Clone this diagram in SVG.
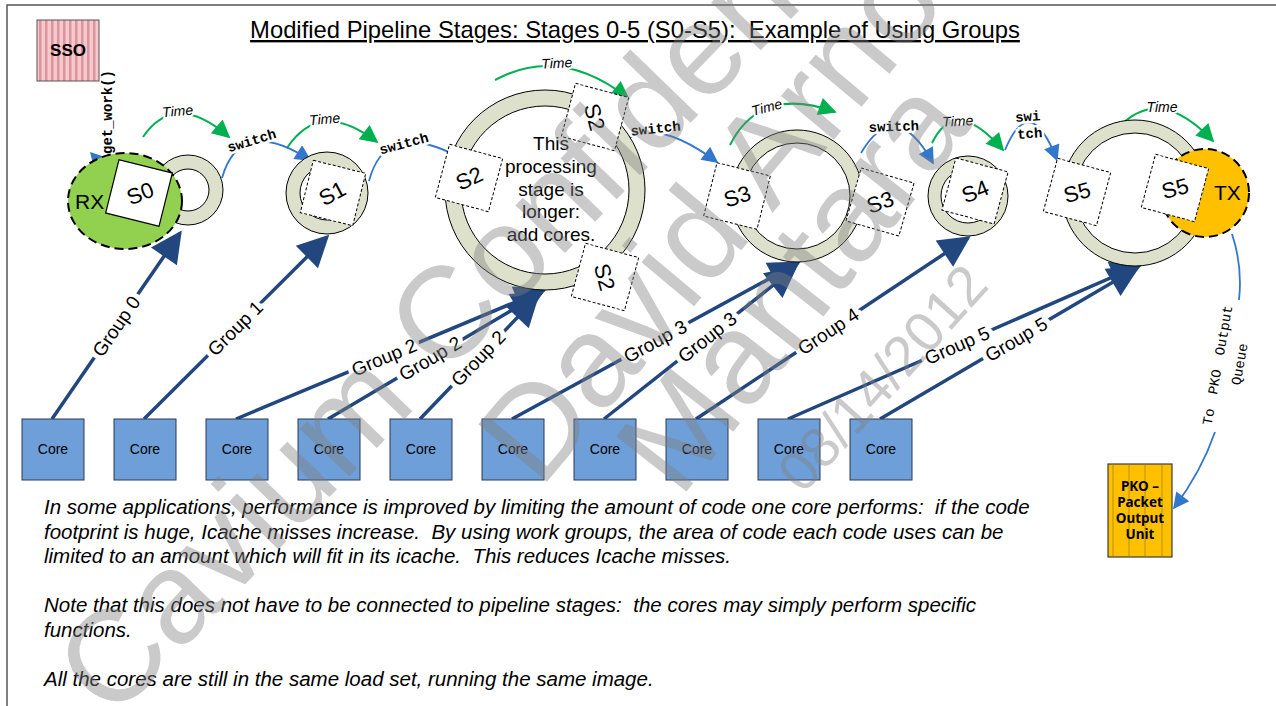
<svg xmlns="http://www.w3.org/2000/svg" width="1276" height="706" viewBox="0 0 1276 706">
  <style>
    .ring { fill: #dde0cb; stroke: #000; stroke-width: 1; }
    .hole { fill: #fff; stroke: #000; stroke-width: 1; }
    .sq { fill: #fff; stroke: #000; stroke-width: 1; stroke-dasharray: 3 2; }
    .sq0 { fill: #fff; stroke: #000; stroke-width: 1.2; }
    .stxt { font-family: "Liberation Sans", Arial, sans-serif; font-size: 22px; text-anchor: middle; fill: #000; }
    .core rect { fill: #6f9fd8; stroke: #2b3a55; stroke-width: 1; }
    .core text { font-family: "Liberation Sans", Arial, sans-serif; font-size: 14px; text-anchor: middle; fill: #000; }
    .grp { stroke: #21477e; stroke-width: 3.5; fill: none; marker-end: url(#arrD); }
    .glbl { font-family: "Liberation Sans", Arial, sans-serif; font-size: 19px; text-anchor: middle; fill: #000; stroke: #fff; stroke-width: 10; paint-order: stroke; stroke-linejoin: round; }
    .time { stroke: #00b050; stroke-width: 2; fill: none; marker-end: url(#arrG); }
    .tlbl { font-family: "Liberation Sans", Arial, sans-serif; font-style: italic; font-size: 14px; text-anchor: middle; fill: #000; stroke: #fff; stroke-width: 4; paint-order: stroke; }
    .sw { stroke: #3377cc; stroke-width: 1.8; fill: none; }
    .swa { marker-end: url(#arrB); }
    .slbl { font-family: "Liberation Mono", "Courier New", monospace; font-weight: bold; font-size: 14px; text-anchor: middle; fill: #000; stroke: #fff; stroke-width: 5; paint-order: stroke; }
    .mono { font-family: "Liberation Mono", "Courier New", monospace; font-size: 14px; fill: #000; }
    .para { font-family: "Liberation Sans", Arial, sans-serif; font-style: italic; font-size: 20.5px; fill: #000; white-space: pre; }
    .wm { font-family: "Liberation Sans", Arial, sans-serif; fill: #808080; fill-opacity: 0.42; }
  </style>
  <defs>
    <marker id="arrD" viewBox="0 0 10 10" refX="9" refY="5" markerWidth="10.5" markerHeight="9" orient="auto">
      <path d="M0,0 L10,5 L0,10 z" fill="#21477e"/>
    </marker>
    <marker id="arrG" viewBox="0 0 10 10" refX="9" refY="5" markerWidth="10" markerHeight="9" orient="auto">
      <path d="M0,0 L10,5 L0,10 z" fill="#00b050"/>
    </marker>
    <marker id="arrB" viewBox="0 0 10 10" refX="9" refY="5" markerWidth="10" markerHeight="9" orient="auto">
      <path d="M0,0 L10,5 L0,10 z" fill="#3377cc"/>
    </marker>
    <pattern id="pinkStripe" width="6" height="10" patternUnits="userSpaceOnUse">
      <rect width="6" height="10" fill="#f8c8ce"/>
      <rect x="3" width="2.5" height="10" fill="#d9969c"/>
    </pattern>
  </defs>

  <!-- page frame -->
  <rect x="7" y="5" width="1290" height="720" fill="#fff" stroke="#555" stroke-width="1.5"/>

  <!-- heading -->
  <text x="635" y="38" xml:space="preserve" style="white-space: pre" font-family="Liberation Sans, Arial, sans-serif" font-size="23.8" text-anchor="middle" text-decoration="underline">Modified Pipeline Stages: Stages 0-5 (S0-S5):  Example of Using Groups</text>

  <!-- SSO block -->
  <g id="sso">
    <rect x="37" y="20" width="62" height="61" fill="url(#pinkStripe)" stroke="#555" stroke-width="1"/>
    <text x="68" y="56" font-family="Liberation Sans, Arial, sans-serif" font-size="17" font-weight="bold" text-anchor="middle">SSO</text>
  </g>

  <!-- connectors -->
  <g id="connectors">
    <!-- get_work request into RX -->
    <polygon points="90,152 108,158 95,172" fill="#3377cc"/>
    <text class="mono" font-weight="bold" font-size="13" transform="translate(112,112) rotate(-90)" text-anchor="middle">get_work()</text>

    <!-- Time arcs -->
    <path class="time" d="M143,137 Q175,90 229,137"/>
    <path class="time" d="M287,148 Q320,98 377,142"/>
    <path class="time" d="M495,80 Q560,45 628,98"/>
    <path class="time" d="M730,145 Q760,85 835,112"/>
    <path class="time" d="M932,143 Q955,95 1003,150"/>
    <path class="time" d="M1120,126 Q1160,85 1213,141"/>
    <text class="tlbl" transform="translate(178,116) rotate(-5)">Time</text>
    <text class="tlbl" transform="translate(325,124) rotate(-5)">Time</text>
    <text class="tlbl" transform="translate(557,68) rotate(-3)">Time</text>
    <text class="tlbl" transform="translate(768,112) rotate(-15)">Time</text>
    <text class="tlbl" transform="translate(958,126) rotate(-3)">Time</text>
    <text class="tlbl" transform="translate(1162,112) rotate(0)">Time</text>

    <!-- switch hand-offs -->
    <path class="sw swa" d="M222,178 Q240,115 310,160"/>
    <path class="sw" d="M369,181 Q385,120 455,155"/>
    <path class="sw swa" d="M612,158 Q640,105 717,162"/>
    <path class="sw swa" d="M861,153 Q895,95 933,163"/>
    <path class="sw swa" d="M1005,150 Q1030,90 1057,160"/>
    <text class="slbl" transform="translate(253,145) rotate(-17)">switch</text>
    <text class="slbl" transform="translate(405,148) rotate(-15)">switch</text>
    <text class="slbl" transform="translate(656,133) rotate(-6)">switch</text>
    <text class="slbl" transform="translate(894,131) rotate(-2)">switch</text>
    <text class="slbl" transform="translate(1028,121) rotate(-4)">swi</text>
    <text class="slbl" transform="translate(1030,138) rotate(-4)">tch</text>

    <!-- output to PKO -->
    <path class="sw" d="M1232,234 C1240,258 1241,282 1239,300"/>
    <path class="sw swa" d="M1215,432 C1206,458 1192,484 1174,508"/>
    <text class="mono" font-size="15" word-spacing="6" text-anchor="middle" transform="translate(1222,366) rotate(-80)">To PKO Output</text>
    <text class="mono" font-size="15" text-anchor="middle" transform="translate(1244,365) rotate(-80)">Queue</text>

    <!-- core to group assignments -->
    <path class="grp" d="M52,419 L180,233"/>
    <path class="grp" d="M144,419 L327,237"/>
    <path class="grp" d="M236,419 L544,290"/>
    <path class="grp" d="M328,419 L541,293"/>
    <path class="grp" d="M420,419 L537,297"/>
    <path class="grp" d="M512,419 L798,263"/>
    <path class="grp" d="M604,419 L795,268"/>
    <path class="grp" d="M696,419 L968,238"/>
    <path class="grp" d="M788,419 L1140,265"/>
    <path class="grp" d="M880,419 L1137,268"/>
    <text class="glbl" dy="7" transform="translate(116,326) rotate(-55.5)">Group 0</text>
    <text class="glbl" dy="7" transform="translate(235,328) rotate(-44.8)">Group 1</text>
    <text class="glbl" dy="7" transform="translate(384,357) rotate(-22.7)">Group 2</text>
    <text class="glbl" dy="7" transform="translate(430,358) rotate(-30.6)">Group 2</text>
    <text class="glbl" dy="7" transform="translate(478,358) rotate(-46.2)">Group 2</text>
    <text class="glbl" dy="7" transform="translate(655,341) rotate(-28.6)">Group 3</text>
    <text class="glbl" dy="7" transform="translate(707,337) rotate(-38.3)">Group 3</text>
    <text class="glbl" dy="7" transform="translate(828,331) rotate(-33.6)">Group 4</text>
    <text class="glbl" dy="7" transform="translate(957,345) rotate(-23.6)">Group 5</text>
    <text class="glbl" dy="7" transform="translate(1016,339) rotate(-30.4)">Group 5</text>
  </g>

  <!-- stage 0 with RX -->
  <g id="stage0">
    <circle class="ring" cx="188" cy="190" r="35"/>
    <circle class="hole" cx="188" cy="190" r="21"/>
    <ellipse cx="125" cy="201" rx="57" ry="48" fill="#92d050" stroke="#000" stroke-width="2" stroke-dasharray="9 5"/>
    <text x="75" y="209" font-family="Liberation Sans, Arial, sans-serif" font-size="21">RX</text>
    <rect class="sq0" x="-27.5" y="-27.5" width="55" height="55" transform="translate(139,193) rotate(14)"/>
    <text class="stxt" dy="8" transform="translate(140,193) rotate(-22)">S0</text>
  </g>

  <!-- stage 1 -->
  <g id="stage1">
    <circle class="ring" cx="327" cy="193" r="41"/>
    <circle class="hole" cx="327" cy="193" r="27"/>
    <rect class="sq" x="-27" y="-27" width="54" height="54" transform="translate(333,193) rotate(14)"/>
    <text class="stxt" dy="8" transform="translate(332,193) rotate(-28)">S1</text>
  </g>

  <!-- stage 2, three cores -->
  <g id="stage2">
    <circle class="ring" cx="545" cy="190" r="100"/>
    <circle class="hole" cx="545" cy="190" r="84"/>
    <g font-family="Liberation Sans, Arial, sans-serif" font-size="19" text-anchor="middle">
      <text x="551" y="150">This</text>
      <text x="551" y="173">processing</text>
      <text x="551" y="196">stage is</text>
      <text x="551" y="218">longer:</text>
      <text x="551" y="241">add cores.</text>
    </g>
    <rect class="sq" x="-27.5" y="-27.5" width="55" height="55" transform="translate(469,178) rotate(15)"/>
    <text class="stxt" dy="8" transform="translate(469,178) rotate(-25)">S2</text>
    <rect class="sq" x="-27.5" y="-27.5" width="55" height="55" transform="translate(595,117) rotate(15)"/>
    <text class="stxt" dy="8" transform="translate(595,117) rotate(75)">S2</text>
    <rect class="sq" x="-27.5" y="-27.5" width="55" height="55" transform="translate(605,277) rotate(15)"/>
    <text class="stxt" dy="8" transform="translate(605,277) rotate(75)">S2</text>
  </g>

  <!-- stage 3, two cores -->
  <g id="stage3">
    <circle class="ring" cx="797" cy="196" r="66"/>
    <circle class="hole" cx="797" cy="196" r="53"/>
    <rect class="sq" x="-27.5" y="-27.5" width="55" height="55" transform="translate(737,196) rotate(14)"/>
    <text class="stxt" dy="8" transform="translate(737,196) rotate(-18)">S3</text>
    <rect class="sq" x="-27.5" y="-27.5" width="55" height="55" transform="translate(880,202) rotate(16)"/>
    <text class="stxt" dy="8" transform="translate(880,202) rotate(-20)">S3</text>
  </g>

  <!-- stage 4 -->
  <g id="stage4">
    <circle class="ring" cx="968" cy="196" r="40"/>
    <circle class="hole" cx="968" cy="196" r="27"/>
    <rect class="sq" x="-27" y="-27" width="54" height="54" transform="translate(975,191) rotate(15)"/>
    <text class="stxt" dy="8" transform="translate(975,191) rotate(-22)">S4</text>
  </g>

  <!-- stage 5 with TX -->
  <g id="stage5">
    <circle class="ring" cx="1135" cy="193" r="73"/>
    <circle class="hole" cx="1135" cy="193" r="60"/>
    <rect class="sq" x="-27.5" y="-27.5" width="55" height="55" transform="translate(1077,192) rotate(15)"/>
    <text class="stxt" dy="8" transform="translate(1077,192) rotate(-15)">S5</text>
    <circle cx="1205" cy="193" r="44" fill="#ffc000" stroke="#000" stroke-width="2" stroke-dasharray="9 5"/>
    <text x="1214" y="200" font-family="Liberation Sans, Arial, sans-serif" font-size="21">TX</text>
    <rect class="sq" x="-27.5" y="-27.5" width="55" height="55" transform="translate(1175,188) rotate(15)"/>
    <text class="stxt" dy="8" transform="translate(1175,188) rotate(-15)">S5</text>
  </g>

  <!-- packet output unit -->
  <g id="pko">
    <rect x="1108" y="464" width="64" height="93" fill="#ffc000" stroke="#3a3a3a" stroke-width="1.2"/>
    <g stroke="#c99700" stroke-width="1.2">
      <line x1="1113" y1="465" x2="1113" y2="556"/>
      <line x1="1129" y1="465" x2="1129" y2="556"/>
      <line x1="1145" y1="465" x2="1145" y2="556"/>
      <line x1="1162" y1="465" x2="1162" y2="556"/>
    </g>
    <g font-family="Noto Sans, Open Sans, sans-serif" font-weight="bold" font-size="13.5" text-anchor="middle" fill="#000">
      <text x="1140" y="491">PKO –</text>
      <text x="1140" y="507">Packet</text>
      <text x="1140" y="523">Output</text>
      <text x="1140" y="539">Unit</text>
    </g>
  </g>

  <!-- cores -->
  <g id="core1" class="core"><rect x="22" y="419" width="62" height="61"/><text x="53" y="454">Core</text></g>
  <g id="core2" class="core"><rect x="114" y="419" width="62" height="61"/><text x="145" y="454">Core</text></g>
  <g id="core3" class="core"><rect x="206" y="419" width="62" height="61"/><text x="237" y="454">Core</text></g>
  <g id="core4" class="core"><rect x="298" y="419" width="62" height="61"/><text x="329" y="454">Core</text></g>
  <g id="core5" class="core"><rect x="390" y="419" width="62" height="61"/><text x="421" y="454">Core</text></g>
  <g id="core6" class="core"><rect x="482" y="419" width="62" height="61"/><text x="513" y="454">Core</text></g>
  <g id="core7" class="core"><rect x="574" y="419" width="62" height="61"/><text x="605" y="454">Core</text></g>
  <g id="core8" class="core"><rect x="666" y="419" width="62" height="61"/><text x="697" y="454">Core</text></g>
  <g id="core9" class="core"><rect x="758" y="419" width="62" height="61"/><text x="789" y="454">Core</text></g>
  <g id="core10" class="core"><rect x="850" y="419" width="62" height="61"/><text x="881" y="454">Core</text></g>

  <!-- notes -->
  <g id="notes" class="para">
    <text x="44" y="514" xml:space="preserve" style="white-space: pre">In some applications, performance is improved by limiting the amount of code one core performs:  if the code</text>
    <text x="44" y="539" xml:space="preserve" style="white-space: pre">footprint is huge, Icache misses increase.  By using work groups, the area of code each code uses can be</text>
    <text x="44" y="563" xml:space="preserve" style="white-space: pre">limited to an amount which will fit in its icache.  This reduces Icache misses.</text>
    <text x="44" y="612" xml:space="preserve" style="white-space: pre">Note that this does not have to be connected to pipeline stages:  the cores may simply perform specific</text>
    <text x="44" y="637">functions.</text>
    <text x="44" y="686">All the cores are still in the same load set, running the same image.</text>
  </g>

  <!-- confidentiality watermark -->
  <g id="watermark" class="wm">
    <text font-size="130" transform="translate(112,722) rotate(-46)">Cavium Confidential</text>
    <text font-size="130" transform="translate(540,490) rotate(-50)">David Arnold</text>
    <text font-size="130" transform="translate(680,500) rotate(-52)">Mantara</text>
    <text font-size="56" transform="translate(803,495) rotate(-48)">08/14/2012</text>
  </g>
</svg>
